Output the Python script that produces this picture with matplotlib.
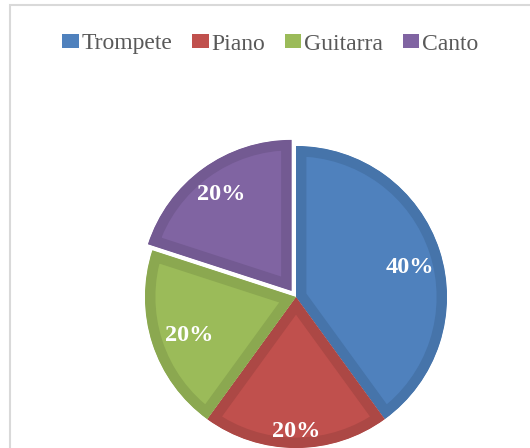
import numpy as np
import matplotlib
matplotlib.use("Agg")
from matplotlib import pyplot as plt
from matplotlib.patches import Rectangle, Patch

labels = ['Trompete', 'Piano', 'Guitarra', 'Canto']
values = [40, 20, 20, 20]
colors = ['#4F81BD', '#C0504D', '#9BBB59', '#8064A2']
edge_colors = ['#4674AA', '#AC4845', '#8BA850', '#735A92']
explode = [0, 0, 0, 0.05]
label_r = [0.78, 0.89, 0.75, 0.79]
label_shift = [-3.5, 0, 2, 0]  # degrees, Excel "best fit" placement

plt.rcParams['font.family'] = ['Liberation Serif', 'DejaVu Serif']

W, H = 530, 448
fig = plt.figure(figsize=(W / 100, H / 100), dpi=100)

# pie: centre (296, 297) px, radius 151 px
R = 151
cx, cy = 296, 297
half = 200
ax = fig.add_axes([(cx - half) / W, (H - cy - half) / H, 2 * half / W, 2 * half / H])

wedges, _ = ax.pie(values, colors=colors, startangle=90, counterclock=False,
                   explode=explode, radius=1, wedgeprops=dict(linewidth=0))
ax.set_xlim(-half / R, half / R)
ax.set_ylim(-half / R, half / R)
ax.set_aspect('equal')
ax.axis('off')

# darker inner border, like Excel: stroke clipped to the wedge itself
for w, ec in zip(wedges, edge_colors):
    w.set_edgecolor(ec)
    w.set_linewidth(15)
    w.set_joinstyle('miter')
    w.set_clip_on(True)
    w.set_clip_path(w)

for w, r, s, v in zip(wedges, label_r, label_shift, values):
    ang = np.deg2rad((w.theta1 + w.theta2) / 2 + s)
    x0, y0 = w.center
    ax.text(x0 + r * np.cos(ang), y0 + r * np.sin(ang), f'{v}%',
            ha='center', va='center', color='white', fontsize=17.5,
            fontweight='bold')

handles = [Patch(facecolor=c, edgecolor='none') for c in colors]
leg = fig.legend(handles, labels, loc='center', bbox_to_anchor=(270 / W, 1 - 44 / H),
                 ncol=4, frameon=False, fontsize=17, handlelength=0.7,
                 handleheight=0.5, handletextpad=0.1, columnspacing=0.85,
                 labelcolor='#595959', borderpad=0)

# chart area border
fig.add_artist(Rectangle((10 / W, -0.1), 1.2, 1 - 4.5 / H + 0.1,
                         transform=fig.transFigure, fill=False,
                         edgecolor='#D9D9D9', linewidth=1.5))

fig.savefig('out.png', dpi=100)
